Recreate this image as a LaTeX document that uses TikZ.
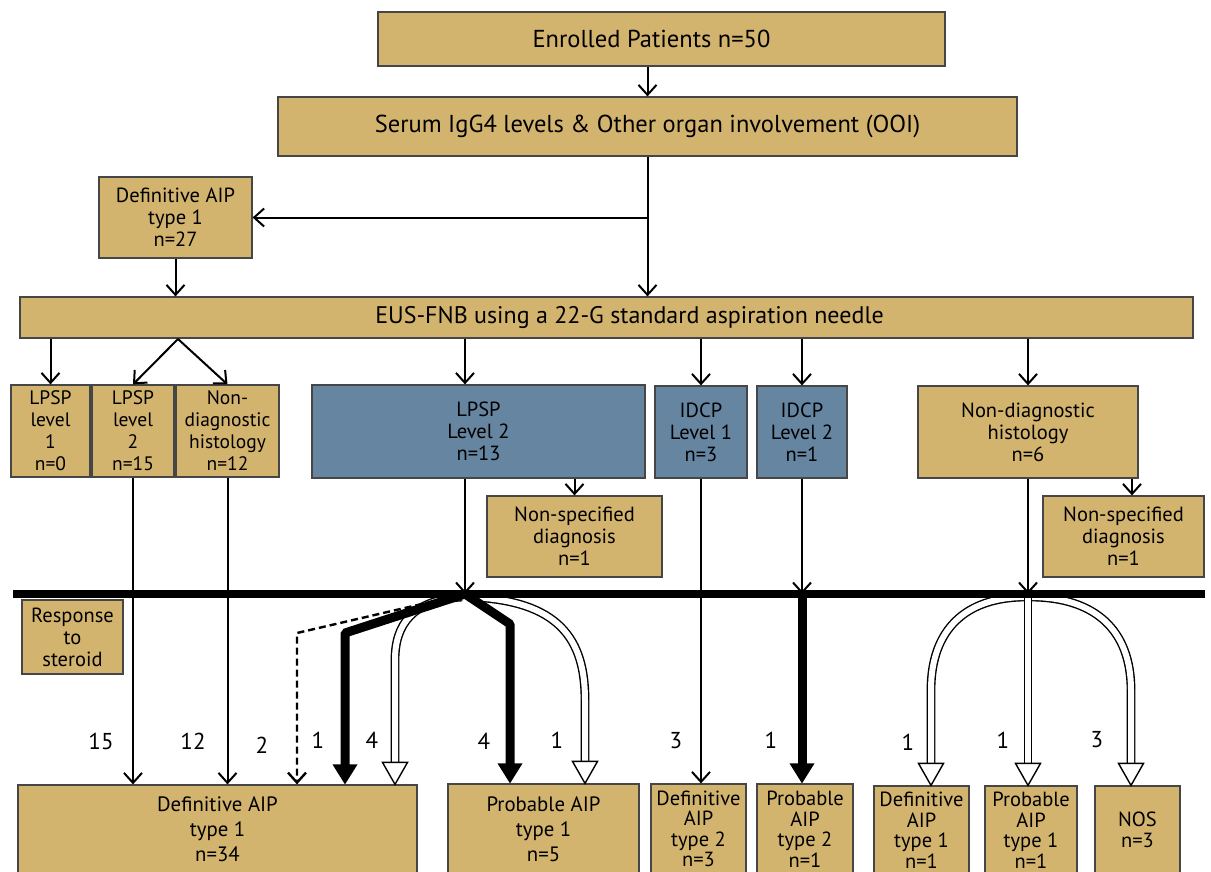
\documentclass[tikz,border=0pt]{standalone}
\usepackage{fontspec}
\setmainfont{PT Sans}
\usetikzlibrary{arrows.meta,calc}
\definecolor{tanfill}{RGB}{211,180,111}
\definecolor{steelfill}{RGB}{102,133,160}
\definecolor{boxline}{RGB}{70,70,70}
\newcommand\fsBig{\fontsize{24.5}{28}\selectfont}
\newcommand\fsEus{\fontsize{24}{28}\selectfont}
\newcommand\fsMid{\fontsize{20.5}{22}\selectfont}
\newcommand\fsSml{\fontsize{19.5}{22}\selectfont}
\newcommand\fsBot{\fontsize{20.8}{25}\selectfont}
\newcommand\fsNar{\fontsize{20.5}{20.5}\selectfont}
\newcommand\fsLab{\fontsize{23}{25}\selectfont}
\newcommand\ohead[1]{\draw[fill=white,line width=1.4pt,line join=miter] (#1) -- ++(-12.5,-22) -- ++(25,0) -- cycle;}
\newcommand\thead[1]{\fill (#1) -- ++(-12.5,-20) -- ++(25,0) -- cycle;}
\begin{document}
\begin{tikzpicture}[x=1pt,y=-1pt,
  tanbox/.style={draw=boxline, line width=1.2pt, fill=tanfill, inner sep=0pt, align=center},
  bluebox/.style={tanbox, fill=steelfill},
  arr/.style={line width=2pt, -{Straight Barb[length=10pt,width=18pt]}},
  dasharr/.style={arr, line width=2.4pt, dash pattern=on 7pt off 4pt},
  heavy/.style={line width=9pt, line join=bevel},
  hollow/.style={draw=black, line width=1.4pt, double=white, double distance=6pt},
  lab/.style={font=\fsLab, inner sep=0pt}]
\useasboundingbox (0,0) rectangle (1211,872);

% ---- boxes
\node[tanbox, minimum width=567, minimum height=54, font=\fsBig] (enr) at (661.5,39) {Enrolled Patients n=50\hspace*{20pt}};
\node[tanbox, minimum width=739, minimum height=59, font=\fsBig] (serum) at (647.5,126.5) {Serum IgG4 levels \& Other organ involvement (OOI)};
\node[tanbox, minimum width=153, minimum height=81, font=\fsMid] (def27) at (175.5,217.5) {Definitive AIP\\type 1\\n=27};
\node[tanbox, minimum width=1173, minimum height=41, font=\fsEus] (eus) at (606.5,317.5) {\hspace*{46pt}EUS-FNB using a 22-G standard aspiration needle};
\node[tanbox, minimum width=79, minimum height=92, font=\fsSml] (l1) at (50.5,431) {LPSP\\level\\1\\n=0};
\node[tanbox, minimum width=82, minimum height=92, font=\fsSml] (l2) at (133,431) {LPSP\\level\\2\\n=15};
\node[tanbox, minimum width=103, minimum height=92, font=\fsSml] (nd12) at (227.5,431) {Non-\\diagnostic\\histology\\n=12};
\node[bluebox, minimum width=333, minimum height=93, font=\fsMid] (lpsp13) at (478.5,431.5) {LPSP\\Level 2\\n=13};
\node[tanbox, minimum width=175, minimum height=81, font=\fsMid] (ns1) at (574.5,536.5) {Non-specified\\diagnosis\\n=1};
\node[bluebox, minimum width=92, minimum height=92, font=\fsMid] (idcp1) at (701,432) {IDCP\\Level 1\\n=3};
\node[bluebox, minimum width=90, minimum height=92, font=\fsMid] (idcp2) at (802,432) {IDCP\\Level 2\\n=1};
\node[tanbox, minimum width=220, minimum height=92, font=\fsMid] (nd6) at (1028,432) {Non-diagnostic\\histology\\n=6};
\node[tanbox, minimum width=161, minimum height=81, font=\fsMid] (ns2) at (1123.5,536.5) {Non-specified\\diagnosis\\n=1};
\node[tanbox, minimum width=101, minimum height=74, font=\fsMid] (resp) at (72.5,637) {Response\\to\\steroid};
\node[tanbox, minimum width=399, minimum height=89, font=\fsBot] (d34) at (217.5,829.5) {Definitive AIP\\type 1\\n=34};
\node[tanbox, minimum width=191, minimum height=90, font=\fsBot] (p5) at (543.5,829) {Probable AIP\\type 1\\n=5};
\node[tanbox, minimum width=95, minimum height=90, font=\fsNar] (d3) at (698.5,829) {Definitive\\AIP\\type 2\\n=3};
\node[tanbox, minimum width=96, minimum height=90, font=\fsNar] (p1) at (805,829) {Probable\\AIP\\type 2\\n=1};
\node[tanbox, minimum width=95, minimum height=88, font=\fsNar] (d1b) at (921.5,830) {Definitive\\AIP\\type 1\\n=1};
\node[tanbox, minimum width=92, minimum height=88, font=\fsNar] (p1b) at (1031,830) {Probable\\AIP\\type 1\\n=1};
\node[tanbox, minimum width=85, minimum height=88, font=\fsNar] (nos) at (1137.5,830) {NOS\\n=3};

% ---- coordinates
\coordinate (barL) at (13,594);
\coordinate (barR) at (1205,594);
\coordinate (j1) at (465,594);
\coordinate (j2) at (1028,594);
\coordinate (apex) at (178,339);
\coordinate (cDash) at (297,633);
\coordinate (cTL) at (345,633);
\coordinate (cTR) at (510,624);
\coordinate (cOL) at (395,660);
\coordinate (cOR) at (585,700);
\coordinate (cRL) at (931,690);
\coordinate (cRR) at (1131,690);

% ---- upper connectors
\draw[arr] (enr.south -| serum.north) -- (serum.north);
\draw[arr] (serum.south) -- (serum.south |- eus.north);
\draw[arr] (serum.south |- def27.east) -- (def27.east);
\draw[arr] (def27.south) -- (def27.south |- eus.north);
\draw[arr] (eus.south -| l1.north) -- (l1.north);
\draw[arr] (apex) -- (l2.north);
\draw[arr] (apex) -- (nd12.north);
\draw[arr] (eus.south -| j1) -- (lpsp13.north -| j1);
\draw[arr] (eus.south -| idcp1.north) -- (idcp1.north);
\draw[arr] (eus.south -| idcp2.north) -- (idcp2.north);
\draw[arr] (eus.south -| nd6.north) -- (nd6.north);
\draw[arr] (lpsp13.south -| ns1.north) -- (ns1.north);
\draw[arr] ([xshift=8.5pt]ns2.north |- nd6.south) -- ([xshift=8.5pt]ns2.north);

% ---- hollow shafts
\draw[hollow] (462,597) .. controls (412,600) and (395,625) .. (cOL) -- (cOL |- 0,764);
\draw[hollow] (468,597) .. controls (560,600) and (585,640) .. (cOR) -- (cOR |- 0,764);
\draw[hollow] (1026,597) .. controls (965,597) and (931,630) .. (cRL) -- (cRL |- 0,764);
\draw[hollow] (1030,597) .. controls (1095,597) and (1131,630) .. (cRR) -- (cRR |- 0,764);
\draw[hollow] (j2) -- (j2 |- 0,764);
\ohead{cOL |- d34.north}
\ohead{cOR |- p5.north}
\ohead{cRL |- d1b.north}
\ohead{j2 |- p1b.north}
\ohead{cRR |- nos.north}

% ---- dashed and heavy
\draw[dasharr] (j1) -- (cDash) -- (cDash |- d34.north);
\draw[heavy] (j1) -- (cTL) -- (cTL |- 0,768);
\thead{cTL |- d34.north}
\draw[heavy] (j1) -- (cTR) -- (cTR |- 0,768);
\thead{cTR |- p5.north}
\draw[heavy] (idcp2.south |- barL) -- (idcp2.south |- 0,768);
\thead{idcp2.south |- p1.north}

% ---- steroid bar
\draw[line width=8pt] (barL) -- (barR);

% ---- lines to / through the bar
\draw[arr] (l2.south) -- (l2.south |- d34.north);
\draw[arr] (nd12.south) -- (nd12.south |- d34.north);
\draw[arr] (idcp1.south) -- (idcp1.south |- d3.north);
\draw[arr] (lpsp13.south -| j1) -- (j1);
\draw[arr] (idcp2.south) -- (idcp2.south |- barL);
\draw[arr] (nd6.south) -- (j2);

% ---- counts
\node[lab] (n15) at (101,741) {15};
\node[lab] (n12) at (193,741) {12};
\node[lab] (n2) at (262,745) {2};
\node[lab] (n1a) at (318,740) {1};
\node[lab] (n4a) at (372,740) {4};
\node[lab] (n4b) at (484,741) {4};
\node[lab] (n1b) at (557,740) {1};
\node[lab] (n3a) at (676,741) {3};
\node[lab] (n1c) at (771,740) {1};
\node[lab] (n1d) at (908,742) {1};
\node[lab] (n1e) at (1003,740) {1};
\node[lab] (n3b) at (1097,740) {3};
\end{tikzpicture}
\end{document}
